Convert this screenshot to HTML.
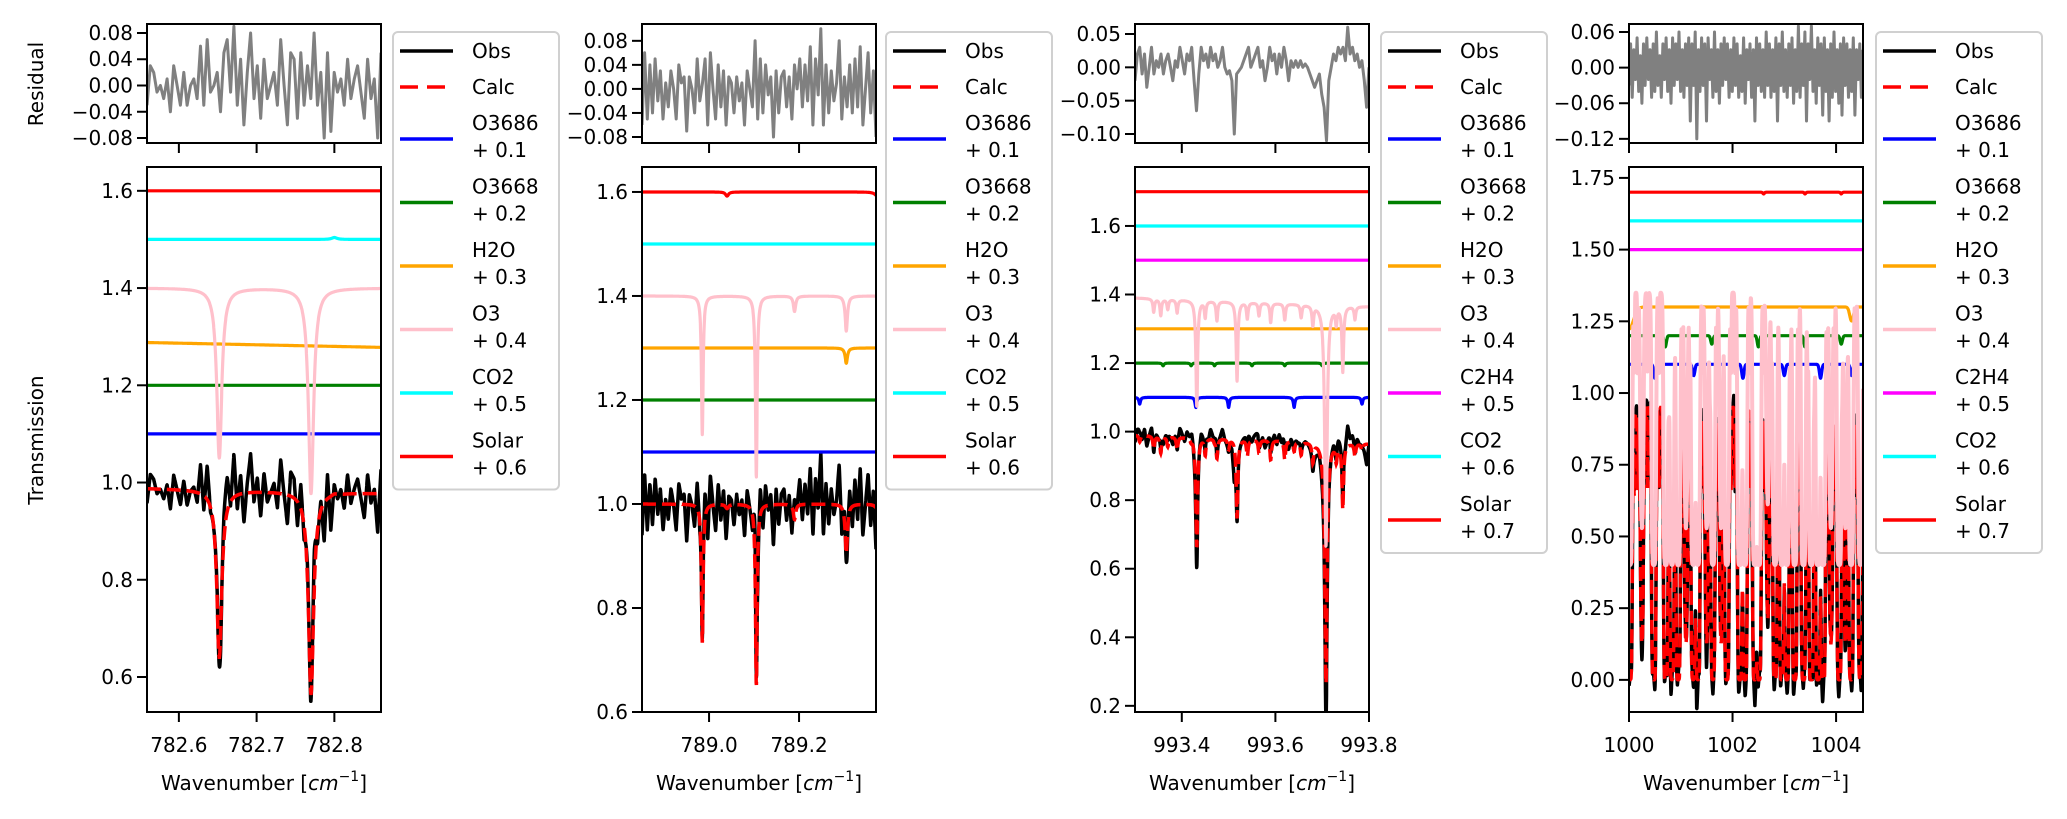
<!DOCTYPE html>
<html><head><meta charset="utf-8"><style>
html,body{margin:0;padding:0;background:#fff;}
svg{display:block;font-family:"DejaVu Sans","Liberation Sans",sans-serif;}
</style></head><body>
<svg id="fig" width="2067" height="819" viewBox="0 0 2067 819" xmlns="http://www.w3.org/2000/svg">
<rect width="2067" height="819" fill="#fff"/>
<text x="36" y="84" font-size="20" text-anchor="middle" dominant-baseline="central" transform="rotate(-90 36 84)">Residual</text>
<text x="36" y="440" font-size="20" text-anchor="middle" dominant-baseline="central" transform="rotate(-90 36 440)">Transmission</text>
</svg>
<script>
// ---------- Panel 1 data ----------
const p1XTicks = [782.6, 782.7, 782.8];
const p1YTicks = [0.6, 0.8, 1.0, 1.2, 1.4, 1.6];
const p1ResTicks = [-0.08, -0.04, 0.0, 0.04, 0.08];
const p1O3686 = [];
const p1O3668 = [];
const p1H2O = [];
const p1H2OBase = [0.988, 0.978];
const p1O3 = [[782.652, 0.43, 0.0035], [782.770, 0.55, 0.0035]];
const p1CO2 = [[782.80, -0.004, 0.004]];
const p1Solar = [];
const p1Resid = [-0.03,0.03,0.02,-0.01,0.0,-0.02,0.01,-0.04,0.03,0.0,-0.03,0.02,-0.03,0.0,0.01,-0.02,0.06,-0.03,0.07,-0.01,0.0,0.02,-0.04,0.05,0.07,-0.01,0.09,-0.03,0.04,-0.06,0.02,0.08,-0.02,0.03,-0.05,0.04,-0.02,0.0,0.02,-0.03,0.07,0.0,-0.06,0.05,0.04,-0.05,0.05,-0.03,0.03,-0.02,0.08,-0.03,0.02,-0.08,0.05,-0.07,0.02,-0.01,0.01,-0.03,0.04,-0.02,0.01,0.03,-0.01,-0.05,0.04,-0.02,0.01,-0.08,0.05];

// ---------- Panel 2 data ----------
const p2XTicks = [789.0, 789.2];
const p2YTicks = [0.6, 0.8, 1.0, 1.2, 1.4, 1.6];
const p2ResTicks = [-0.08, -0.04, 0.0, 0.04, 0.08];
const p2O3686 = [];
const p2O3668 = [];
const p2H2O = [[789.305, 0.03, 0.003]];
const p2O3 = [[788.985, 0.31, 0.002], [789.105, 0.43, 0.002], [789.19, 0.03, 0.003], [789.305, 0.07, 0.003]];
const p2CO2 = [];
const p2Solar = [[789.04, 0.008, 0.004], [789.375, 0.01, 0.006]];
const p2Resid = [-0.06,0.06,-0.05,0.04,-0.04,0.05,-0.02,0.03,-0.05,0.01,-0.03,0.03,0.0,-0.05,0.04,0.01,0.02,-0.07,0.02,0.0,-0.04,0.05,-0.02,0.01,0.05,-0.06,0.06,0.0,-0.05,0.04,-0.03,0.03,-0.06,0.02,0.01,-0.04,0.02,-0.02,0.01,-0.06,0.03,0.0,-0.03,0.08,-0.05,0.05,-0.04,0.04,-0.01,0.02,-0.08,0.03,-0.04,0.02,0.03,-0.03,0.02,-0.05,0.04,0.0,0.05,-0.03,0.04,-0.02,0.07,-0.06,0.05,-0.01,0.1,-0.06,0.04,-0.04,0.03,-0.02,0.01,0.08,-0.05,0.02,-0.03,0.04,-0.04,0.05,-0.03,0.07,-0.06,0.0,0.06,-0.04,0.03,-0.08];

// ---------- Panel 3 data ----------
const p3XTicks = [993.4, 993.6, 993.8];
const p3YTicks = [0.2, 0.4, 0.6, 0.8, 1.0, 1.2, 1.4, 1.6];
const p3ResTicks = [-0.10, -0.05, 0.0, 0.05];
const p3O3686 = [[993.31, 0.02, 0.002], [993.43, 0.03, 0.002], [993.50, 0.03, 0.002], [993.64, 0.03, 0.002], [993.785, 0.02, 0.002]];
const p3O3668 = [[993.36, 0.008, 0.002], [993.42, 0.008, 0.002], [993.47, 0.008, 0.002], [993.55, 0.008, 0.002], [993.62, 0.008, 0.002], [993.70, 0.008, 0.002]];
const p3H2O = [];
const p3O3Base = [0.99, 0.965];
const p3O3 = [[993.34,0.04,0.002],[993.355,0.05,0.002],[993.37,0.03,0.002],[993.39,0.04,0.002],[993.432,0.38,0.002],[993.45,0.05,0.002],[993.475,0.06,0.002],[993.518,0.27,0.002],[993.54,0.05,0.002],[993.565,0.04,0.002],[993.59,0.06,0.002],[993.62,0.05,0.002],[993.655,0.04,0.002],[993.68,0.06,0.002],[993.708,1.3,0.0022],[993.73,0.05,0.002],[993.744,0.22,0.002],[993.77,0.04,0.002]];
const p3C2H4 = [];
const p3CO2 = [];
const p3Solar = [];
const p3Resid = [-0.02,0.02,0.03,-0.01,0.02,-0.03,0.0,0.03,-0.01,0.01,0.0,0.02,-0.01,0.01,0.02,0.0,-0.02,0.01,0.0,0.03,0.01,-0.01,0.02,0.01,0.03,-0.02,-0.065,-0.01,0.03,0.01,0.02,0.0,0.03,0.01,0.02,0.0,0.01,0.03,0.0,-0.01,-0.005,-0.02,-0.10,-0.01,-0.005,0.0,0.01,0.02,0.03,0.0,0.01,0.02,0.03,0.0,0.01,-0.02,0.0,0.03,0.01,0.02,-0.01,0.02,0.0,0.03,0.01,-0.02,0.01,0.0,0.01,0.0,0.01,0.0,0.005,0.0,-0.01,-0.02,-0.03,-0.02,-0.01,-0.04,-0.06,-0.11,-0.02,0.0,0.02,0.01,0.03,0.02,0.03,0.01,0.06,0.02,0.03,0.01,0.02,0.0,0.01,-0.02,-0.06,0.0];

// ---------- Panel 4 data ----------
const p4XTicks = [1000, 1002, 1004];
const p4YTicks = [0.0, 0.25, 0.5, 0.75, 1.0, 1.25, 1.5, 1.75];
const p4ResTicks = [-0.12, -0.06, 0.0, 0.06];
const p4O3686 = [[1000.5,0.05,0.03],[1001.25,0.04,0.03],[1002.2,0.05,0.03],[1003.0,0.04,0.03],[1003.7,0.05,0.03],[1004.3,0.04,0.03]];
const p4O3668 = [[1000.7,0.04,0.03],[1001.6,0.03,0.03],[1002.5,0.04,0.03],[1003.4,0.04,0.03],[1004.1,0.03,0.03]];
const p4H2O = [[1000.0, 0.08, 0.12], [1004.3, 0.05, 0.05]];
const p4O3Centers = [1000.02,1000.25,1000.48,1000.71,1000.83,1000.95,1001.1,1001.24,1001.33,1001.5,1001.62,1001.78,1001.89,1002.14,1002.24,1002.43,1002.51,1002.68,1002.82,1002.95,1003.05,1003.2,1003.37,1003.52,1003.65,1003.75,1003.9,1004.06,1004.18,1004.29,1004.47];
const p4O3Strength = [7,2,8,8,7,8,2,7,7,2,7,2,8,9,8,8,8,1.5,7,8,8,8,9,9,9,9,2,8,2,8,7];
const p4O3Weak = [1000.1,1000.17,1000.36,1000.58,1000.77,1001.03,1001.17,1001.42,1001.56,1001.7,1001.97,1002.05,1002.33,1002.6,1002.75,1003.12,1003.28,1003.45,1003.58,1003.83,1003.97,1004.12,1004.38];
const p4C2H4 = [];
const p4CO2 = [];
const p4Solar = [[1002.6,0.006,0.02],[1003.4,0.006,0.02],[1004.1,0.006,0.02]];
const p4Resid = [-0.03,0.04,-0.05,0.03,-0.02,0.05,-0.04,0.02,-0.06,0.04,-0.03,0.05,-0.02,0.03,-0.05,0.04,-0.04,0.06,-0.03,0.02,-0.05,0.04,-0.02,0.05,-0.04,0.03,-0.06,0.05,-0.03,0.04,-0.02,0.06,-0.04,0.03,-0.05,0.04,-0.03,0.05,-0.09,0.04,-0.03,0.06,-0.12,0.03,-0.04,0.05,-0.03,0.04,-0.09,0.05,-0.02,0.03,-0.05,0.06,-0.04,0.03,-0.06,0.04,-0.03,0.05,-0.02,0.04,-0.05,0.03,-0.04,0.05,-0.03,0.04,-0.05,0.02,-0.04,0.05,-0.06,0.03,-0.02,0.04,-0.05,0.03,-0.09,0.05,-0.03,0.04,-0.04,0.03,-0.05,0.06,-0.03,0.04,-0.05,0.03,-0.04,0.05,-0.09,0.04,-0.03,0.06,-0.04,0.03,-0.05,0.04,-0.03,0.05,-0.06,0.03,-0.04,0.07,-0.05,0.04,-0.03,0.06,-0.09,0.04,-0.02,0.07,-0.04,0.03,-0.06,0.05,-0.03,0.04,-0.08,0.05,-0.04,0.03,-0.09,0.04,-0.05,0.06,-0.04,0.03,-0.06,0.04,-0.08,0.05,-0.03,0.04,-0.05,0.03,-0.04,0.05,-0.08,0.03,-0.02,0.04,-0.05,0.03];

const svg = document.getElementById('fig');
const NS = 'http://www.w3.org/2000/svg';
function mk(tag, attrs, parent){ const e = document.createElementNS(NS, tag); for (const k in attrs) e.setAttribute(k, attrs[k]); (parent||svg).appendChild(e); return e; }
function tau(x, lines, gauss){ let t = 0; for (const l of lines){ const d = (x - l[0]) / l[2]; t += gauss ? l[1]*Math.exp(-d*d) : l[1]/(1 + d*d); } return t; }
function fmt(v, dec){ const s = Math.abs(v).toFixed(dec); return (v < -1e-9 ? '\u2212' : '') + s; }

const RES_T = 24, RES_B = 143, MAIN_T = 167, MAIN_B = 712;

function panel(cfg, idx){
  const g = mk('g', {});
  
  
  const L = cfg.x0, R = cfg.x1;
  const sx = v => L + (v - cfg.xr[0]) / (cfg.xr[1] - cfg.xr[0]) * (R - L);
  const sy = v => MAIN_B - (v - cfg.yr[0]) / (cfg.yr[1] - cfg.yr[0]) * (MAIN_B - MAIN_T);
  const ry = v => RES_B - (v - cfg.rr[0]) / (cfg.rr[1] - cfg.rr[0]) * (RES_B - RES_T);
  const defs = mk('defs', {}, g);
  const c1 = mk('clipPath', {id: 'cm' + idx}, defs); mk('rect', {x: L, y: MAIN_T, width: R - L, height: MAIN_B - MAIN_T}, c1);
  const c2 = mk('clipPath', {id: 'cr' + idx}, defs); mk('rect', {x: L, y: RES_T, width: R - L, height: RES_B - RES_T}, c2);
  const N = 1200, xs = [];
  for (let i = 0; i < N; i++) xs.push(cfg.xr[0] + i / (N - 1) * (cfg.xr[1] - cfg.xr[0]));
  const sp = cfg.species.map(s => xs.map((x, i) => { const f = i / (N - 1); const b = s.base ? s.base[0] + (s.base[1] - s.base[0]) * f : 1; return b * Math.exp(-tau(x, s.lines, cfg.gauss)); }));
  const calc = xs.map((x, i) => sp.reduce((p, a) => p * a[i], 1));
  const nr = cfg.resid.length;
  const rx = cfg.resid.map((v, i) => cfg.xr[0] + i / (nr - 1) * (cfg.xr[1] - cfg.xr[0]));
  const residAt = x => { const t = (x - cfg.xr[0]) / (cfg.xr[1] - cfg.xr[0]) * (nr - 1); const i = Math.min(nr - 2, Math.floor(t)); const f = t - i; return cfg.resid[i] * (1 - f) + cfg.resid[i + 1] * f; };
  const obs = xs.map((x, i) => calc[i] + residAt(x));
  const path = (X, Y, fx, fy) => X.map((x, i) => (i ? 'L' : 'M') + fx(x).toFixed(1) + ' ' + fy(Y[i]).toFixed(1)).join('');
  const rg = mk('g', {'clip-path': 'url(#cr' + idx + ')'}, g);
  const rp = mk('path', {d: path(rx, cfg.resid, sx, ry), fill: 'none', stroke: '#808080', 'stroke-width': 3, 'stroke-linejoin': 'round'}, rg);
  
  
  const mg = mk('g', {'clip-path': 'url(#cm' + idx + ')'}, g);
  const op = mk('path', {d: path(xs, obs, sx, sy), fill: 'none', stroke: '#000', 'stroke-width': 3.5, 'stroke-linejoin': 'round'}, mg);
  
  
  const cp = mk('path', {d: path(xs, calc, sx, sy), fill: 'none', stroke: '#ff0000', 'stroke-width': 3.5, 'stroke-dasharray': '14 6'}, mg);
  
  
  cfg.species.forEach((s, k) => {
    const p = mk('path', {d: path(xs, sp[k].map(v => v + s.off), sx, sy), fill: 'none', stroke: s.color, 'stroke-width': s.sw || 3.2, 'stroke-linejoin': 'round'}, mg);
    
    
  });
  mk('rect', {x: L, y: RES_T, width: R - L, height: RES_B - RES_T, fill: 'none', stroke: '#000', 'stroke-width': 2}, g);
  mk('rect', {x: L, y: MAIN_T, width: R - L, height: MAIN_B - MAIN_T, fill: 'none', stroke: '#000', 'stroke-width': 2}, g);
  cfg.xt.forEach(v => {
    const x = sx(v);
    mk('line', {x1: x, x2: x, y1: RES_B, y2: RES_B + 10, stroke: '#000', 'stroke-width': 2}, g);
    mk('line', {x1: x, x2: x, y1: MAIN_B, y2: MAIN_B + 10, stroke: '#000', 'stroke-width': 2}, g);
    const t = mk('text', {x: x, y: 752, 'font-size': 20, 'text-anchor': 'middle'}, g);
    t.textContent = v.toFixed(cfg.xdec);
    
    
  });
  cfg.yt.forEach(v => {
    const y = sy(v);
    mk('line', {x1: L - 10, x2: L, y1: y, y2: y, stroke: '#000', 'stroke-width': 2}, g);
    const t = mk('text', {x: L - 14, y: y + 7, 'font-size': 20, 'text-anchor': 'end'}, g);
    t.textContent = fmt(v, cfg.ydec);
    
    
  });
  cfg.rt.forEach(v => {
    const y = ry(v);
    mk('line', {x1: L - 10, x2: L, y1: y, y2: y, stroke: '#000', 'stroke-width': 2}, g);
    const t = mk('text', {x: L - 14, y: y + 7, 'font-size': 20, 'text-anchor': 'end'}, g);
    t.textContent = fmt(v, 2);
    
    
  });
  const xl = mk('text', {x: (L + R) / 2, y: 790, 'font-size': 20, 'text-anchor': 'middle'}, g);
  
  
  xl.innerHTML = 'Wavenumber [<tspan font-style="italic">cm</tspan><tspan font-size="14" dy="-9">\u22121</tspan><tspan dy="9">]</tspan>';
  const lx = cfg.lx, n = cfg.species.length;
  const lg = mk('g', {}, g);
  
  
  const bottom = 139 + 63.5 * (n - 1) + 33;
  mk('rect', {x: lx, y: 32, width: 166, height: bottom - 32, rx: 5, fill: '#fff', 'fill-opacity': 0.8, stroke: '#d0d0d0', 'stroke-width': 2}, lg);
  const entry = (y, color, dash, lines) => {
    const e = mk('g', {}, lg);
    
    
    const a = {x1: lx + 7, x2: lx + 60, y1: y, y2: y, stroke: color, 'stroke-width': 3.5};
    if (dash) a['stroke-dasharray'] = '18 9';
    mk('line', a, e);
    lines.forEach((s, j) => {
      const t = mk('text', {x: lx + 79, y: (lines.length === 1 ? y : y - 16 + j * 27) + 7, 'font-size': 20}, e);
      t.textContent = s;
    });
  };
  entry(51, '#000', false, ['Obs']);
  entry(87, '#ff0000', true, ['Calc']);
  cfg.species.forEach((s, k) => entry(139 + 63.5 * k, s.color, false, [s.name, '+ ' + s.off.toFixed(1)]));
}

const COL = {O3686: '#0000ff', O3668: '#008000', H2O: '#ffa500', O3: '#ffc0cb', C2H4: '#ff00ff', CO2: '#00ffff', Solar: '#ff0000'};
const sp = (name, off, lines, base) => ({name, off, lines, base, color: COL[name]});

panel({x0: 147, x1: 381, xr: [782.559, 782.860], yr: [0.528, 1.649], rr: [-0.0876, 0.0937], xt: p1XTicks, yt: p1YTicks, rt: p1ResTicks, xdec: 1, ydec: 1, lx: 393, resid: p1Resid,
  species: [sp('O3686', 0.1, p1O3686), sp('O3668', 0.2, p1O3668), sp('H2O', 0.3, p1H2O, p1H2OBase), sp('O3', 0.4, p1O3), sp('CO2', 0.5, p1CO2), sp('Solar', 0.6, p1Solar)]}, 1);
panel({x0: 642, x1: 876, xr: [788.851, 789.371], yr: [0.6, 1.648], rr: [-0.09, 0.108], xt: p2XTicks, yt: p2YTicks, rt: p2ResTicks, xdec: 1, ydec: 1, lx: 886, resid: p2Resid,
  species: [sp('O3686', 0.1, p2O3686), sp('O3668', 0.2, p2O3668), sp('H2O', 0.3, p2H2O), sp('O3', 0.4, p2O3), sp('CO2', 0.5, p2CO2), sp('Solar', 0.6, p2Solar)]}, 2);
panel({x0: 1135, x1: 1369, xr: [993.3, 993.8], yr: [0.182, 1.772], rr: [-0.1135, 0.065], xt: p3XTicks, yt: p3YTicks, rt: p3ResTicks, xdec: 1, ydec: 1, lx: 1381, resid: p3Resid,
  species: [sp('O3686', 0.1, p3O3686), sp('O3668', 0.2, p3O3668), sp('H2O', 0.3, p3H2O), sp('O3', 0.4, p3O3, p3O3Base), sp('C2H4', 0.5, p3C2H4), sp('CO2', 0.6, p3CO2), sp('Solar', 0.7, p3Solar)]}, 3);
const p4O3 = p4O3Centers.map((c, i) => [c, p4O3Strength[i], 0.03]).concat(p4O3Weak.map(c => [c, 0.35, 0.012]));
const p4O3Sp = sp('O3', 0.4, p4O3, [0.95, 0.95]);
p4O3Sp.sw = 4;
panel({x0: 1629, x1: 1863, xr: [1000, 1004.52], yr: [-0.112, 1.788], rr: [-0.127, 0.0735], xt: p4XTicks, yt: p4YTicks, rt: p4ResTicks, xdec: 0, ydec: 2, lx: 1876, resid: p4Resid, gauss: true,
  species: [sp('O3686', 0.1, p4O3686), sp('O3668', 0.2, p4O3668), sp('H2O', 0.3, p4H2O), p4O3Sp, sp('C2H4', 0.5, p4C2H4), sp('CO2', 0.6, p4CO2), sp('Solar', 0.7, p4Solar)]}, 4);
</script>
</body></html>
